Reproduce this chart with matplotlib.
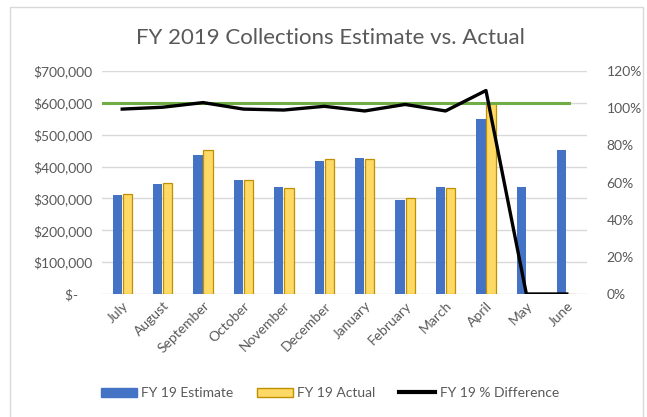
import matplotlib.pyplot as plt
from matplotlib.patches import Patch, Rectangle
from matplotlib.lines import Line2D
import numpy as np

plt.rcParams['font.family'] = ['Lato', 'DejaVu Sans']

months = ['July', 'August', 'September', 'October', 'November', 'December',
          'January', 'February', 'March', 'April', 'May', 'June']
estimate = [310000, 346000, 436000, 359000, 335000, 416000,
            428000, 294000, 335000, 550000, 335000, 453000]
actual = [313000, 349000, 452000, 358000, 334000, 423000,
          423000, 300000, 334000, 600000, 0, 0]
pct_diff = [0.995, 1.005, 1.03, 0.995, 0.99, 1.01,
            0.985, 1.02, 0.985, 1.095, 0, 0]
target = 600000

blue = '#4472C4'
yellow = '#FFD966'
yellow_edge = '#BF9000'
green = '#70AD47'
grey_text = '#595959'
grid_col = '#D9D9D9'

fig = plt.figure(figsize=(6.47, 4.17), dpi=100)
ax = fig.add_axes([102 / 647, 1 - 294 / 417, 485 / 647, 223 / 417])
ax2 = ax.twinx()

# chart border
fig.patches.append(Rectangle((10 / 647, -0.05), 633 / 647, 1.05 - 7 / 417,
                             transform=fig.transFigure, fill=False,
                             edgecolor=grid_col, linewidth=1))

x = np.arange(len(months))
w = 0.23
ax.bar(x - 0.125, estimate, w, color=blue, zorder=2)
ax.bar(x + 0.125, actual, w, color=yellow, edgecolor=yellow_edge,
       linewidth=0.9, zorder=2)
ax.axhline(target, xmin=0, xmax=(569 - 102) / 485, color=green, lw=2.2, zorder=3)

ax.set_xlim(-0.5, len(months) - 0.5)
ax.set_ylim(0, 700000)
ax.set_yticks(np.arange(0, 700001, 100000))
ax.set_yticklabels(['$-    '] + ['${:,.0f}'.format(v) for v in range(100000, 700001, 100000)])
ax.grid(axis='y', color=grid_col, lw=1, zorder=0)
ax.set_axisbelow(True)
ax.set_xticks(x)
ax.set_xticklabels(months, rotation=45, ha='right', rotation_mode='anchor')

ax2.plot(x, pct_diff, color='black', lw=2.4, zorder=4)
ax2.set_ylim(0, 1.2)
ax2.set_yticks(np.arange(0, 1.21, 0.2))
ax2.set_yticklabels(['{:.0f}%'.format(v * 100) for v in np.arange(0, 1.21, 0.2)])

for a in (ax, ax2):
    for s in a.spines.values():
        s.set_visible(False)
    a.tick_params(length=0, labelsize=10, colors=grey_text)
ax.tick_params(axis='y', pad=7)
ax.tick_params(axis='x', pad=4)
ax2.tick_params(axis='y', pad=14)

fig.text(0.51, 1 - 38 / 417, 'FY 2019 Collections Estimate vs. Actual',
         ha='center', va='center', fontsize=16, color=grey_text)

handles = [Patch(facecolor=blue, edgecolor=blue),
           Patch(facecolor=yellow, edgecolor=yellow_edge),
           Line2D([], [], color='black', lw=3)]
labels = ['FY 19 Estimate', 'FY 19 Actual', 'FY 19 % Difference']
leg = fig.legend(handles, labels, loc='center', bbox_to_anchor=(0.51, 1 - 393 / 417),
                 ncol=3, frameon=False, fontsize=10, handlelength=2.6,
                 handleheight=0.6, handletextpad=0.3, columnspacing=1.7)
for t in leg.get_texts():
    t.set_color(grey_text)

fig.savefig('out.png', dpi=100)
